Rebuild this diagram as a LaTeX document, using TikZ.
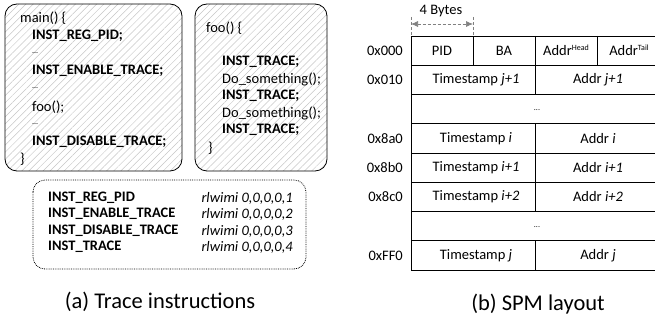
\documentclass[tikz,border=0pt]{standalone}
\usepackage{fontspec}
\setmainfont{Carlito}
\usetikzlibrary{patterns.meta,arrows.meta}
\newcommand\fsz{\fontsize{14.5}{17.6}\selectfont}
\newcommand\capsz{\fontsize{22.5}{26}\selectfont}
\begin{document}
\begin{tikzpicture}[x=1pt,y=-1pt,
  codebox/.style={draw, line width=0.8pt, rounded corners=12pt,
    pattern={Lines[angle=45,distance=5pt,line width=0.5pt]}, pattern color=gray!45},
  defbox/.style={draw, line width=0.8pt, densely dotted, rounded corners=12pt},
  txt/.style={anchor=west, inner sep=0pt, font=\fsz},
  ins/.style={anchor=west, inner sep=0pt, font=\fsz\bfseries},
  enc/.style={anchor=east, inner sep=0pt, font=\fsz\itshape},
  addr/.style={anchor=east, inner sep=0pt, font=\fsz},
  cell/.style={inner sep=0pt, font=\fsz},
  capt/.style={inner sep=0pt, font=\capsz},
  grid/.style={line width=0.8pt},
  meas/.style={gray, line width=0.7pt, densely dashed}]
\useasboundingbox (0,0) rectangle (655,320);

% ---------- code of main() ----------
\draw[codebox] (5,4) rectangle (182,171);
\node[txt] (m0) at (20,18)  {main() \{};
\node[ins] (m1) at (32,36)  {INST\_REG\_PID;};
\node[txt] (m2) at (32,53)  {\fontsize{8}{8}\selectfont ...};
\node[ins] (m3) at (32,71)  {INST\_ENABLE\_TRACE;};
\node[txt] (m4) at (32,88)  {\fontsize{8}{8}\selectfont ...};
\node[txt] (m5) at (32,107) {foo();};
\node[txt] (m6) at (32,124) {\fontsize{8}{8}\selectfont ...};
\node[ins] (m7) at (32,142) {INST\_DISABLE\_TRACE;};
\node[txt] (m8) at (20,159) {\}};

% ---------- code of foo() ----------
\draw[codebox] (195,4) rectangle (327,171);
\node[txt] (f0) at (206,28)  {foo() \{};
\node[ins] (f1) at (222,62)  {INST\_TRACE;};
\node[txt] (f2) at (222,79)  {Do\_something();};
\node[ins] (f3) at (222,96)  {INST\_TRACE;};
\node[txt] (f4) at (222,113) {Do\_something();};
\node[ins] (f5) at (222,130) {INST\_TRACE;};
\node[txt] (f6) at (208,148) {\}};

% ---------- instruction encodings ----------
\draw[defbox] (33,180) rectangle (306,269);
\node[ins] (d1) at (48,198) {INST\_REG\_PID};
\node[ins] (d2) at (48,214) {INST\_ENABLE\_TRACE};
\node[ins] (d3) at (48,231) {INST\_DISABLE\_TRACE};
\node[ins] (d4) at (48,247) {INST\_TRACE};
\node[enc] (e1) at (293,198) {rlwimi 0,0,0,0,1};
\node[enc] (e2) at (293,214) {rlwimi 0,0,0,0,2};
\node[enc] (e3) at (293,231) {rlwimi 0,0,0,0,3};
\node[enc] (e4) at (293,247) {rlwimi 0,0,0,0,4};

\node[capt] (capa) at (160,302) {(a) Trace instructions};

% ---------- SPM layout ----------
% word-width marker
\coordinate (wa) at (411,17);
\coordinate (wb) at (473,17);
\coordinate (wa2) at (411,36);
\coordinate (wb2) at (473,36);
\draw[meas] (wa) -- (wa2);
\draw[meas] (wb) -- (wb2);
\coordinate (aa) at (411,24);
\coordinate (ab) at (473,24);
\draw[meas, {Latex[length=7pt,width=6pt]}-{Latex[length=7pt,width=6pt]}] (aa) -- (ab);
\node[cell] (wlab) at (441,11) {4 Bytes};

% table lines
\foreach \r in {0,...,8}
  \draw[grid] (411,36+29.25*\r) -- (659,36+29.25*\r);
\draw[grid] (411,36) -- (411,270);
\draw[grid] (473,36) -- (473,65.25);
\draw[grid] (597,36) -- (597,65.25);
\draw[grid] (535,36) -- (535,94.5);
\draw[grid] (535,123.75) -- (535,211.5);
\draw[grid] (535,240.75) -- (535,270);

% row addresses
\node[addr] (r0) at (403,50.6)  {0x000};
\node[addr] (r1) at (403,79.9)  {0x010};
\node[addr] (r3) at (403,138.4) {0x8a0};
\node[addr] (r4) at (403,167.6) {0x8b0};
\node[addr] (r5) at (403,196.9) {0x8c0};
\node[addr] (r7) at (403,255.4) {0xFF0};

% cell contents
\node[cell] (c00) at (442,50.6) {PID};
\node[cell] (c01) at (504,50.6) {BA};
\node[cell] (c02) at (566,50.6) {Addr\raisebox{5pt}{\fontsize{8}{8}\selectfont Head}};
\node[cell] (c03) at (629,50.6) {Addr\raisebox{5pt}{\fontsize{8}{8}\selectfont Tail}};
\node[cell] (c10) at (476,79.9) {Timestamp \textit{j+1}};
\node[cell] (c11) at (598,79.9) {Addr \textit{j+1}};
\node[cell] (c2)  at (537,110)  {\fontsize{8}{8}\selectfont ...};
\node[cell] (c30) at (476,138.4) {Timestamp \textit{i}};
\node[cell] (c31) at (598,138.4) {Addr \textit{i}};
\node[cell] (c40) at (476,167.6) {Timestamp \textit{i+1}};
\node[cell] (c41) at (598,167.6) {Addr \textit{i+1}};
\node[cell] (c50) at (476,196.9) {Timestamp \textit{i+2}};
\node[cell] (c51) at (598,196.9) {Addr \textit{i+2}};
\node[cell] (c6)  at (537,227)  {\fontsize{8}{8}\selectfont ...};
\node[cell] (c70) at (476,255.4) {Timestamp \textit{j}};
\node[cell] (c71) at (598,255.4) {Addr \textit{j}};

\node[capt] (capb) at (538,304) {(b) SPM layout};
\end{tikzpicture}
\end{document}
